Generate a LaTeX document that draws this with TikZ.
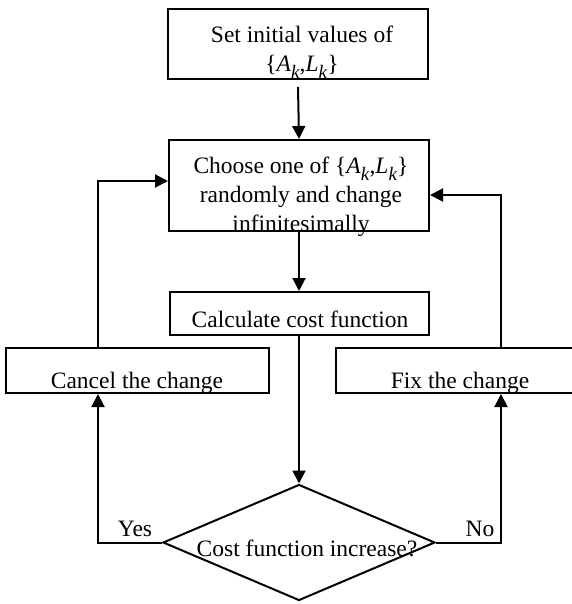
\documentclass[tikz,border=0pt]{standalone}
\usepackage{fontspec}
\setmainfont{Liberation Serif}
\usetikzlibrary{shapes.geometric}
\usetikzlibrary{arrows.meta}
\newcommand\ksub[1]{\raisebox{-7pt}{\fontsize{19}{19}\selectfont\textit{#1}}}
\newcommand\setAL{\{\textit{A}\ksub{k},\textit{L}\ksub{k}\}}
\tikzset{
	box/.style={draw,line width=2pt,inner sep=0pt},
	txt/.style={inner sep=0pt,align=center,anchor=base,font=\fontsize{23.5}{29}\selectfont},
	flow/.style={line width=2pt,-{Triangle[length=13pt,width=13pt]}}
}

\begin{document}
\begin{tikzpicture}[x=1pt,y=-1pt]
	\useasboundingbox (0,0) rectangle (571,604);
	\node[box,minimum width=260,minimum height=70] (init) at (298,44) {};
	\node[box,minimum width=260,minimum height=91] (choose) at (299,185.5) {};
	\node[box,minimum width=259,minimum height=43] (calc) at (299,313.5) {};
	\node[box,minimum width=263,minimum height=45] (cancel) at (137,370.5) {};
	\node[box,minimum width=248,minimum height=45] (fix) at (460,370.5) {};
	\node[box,shape=diamond,minimum width=272,minimum height=116] (test) at (299,542.5) {};
	\node[txt] (inittxt) at (302,72) {Set initial values of\\\setAL};
	\node[txt] (choosetxt) at (301,231) {Choose one of \setAL\\randomly and change\\infinitesimally};
	\node[txt] (calctxt) at (300,327) {Calculate cost function};
	\node[txt] (canceltxt) at (137,388) {Cancel the change};
	\node[txt] (fixtxt) at (460,388) {Fix the change};
	\node[txt] (testtxt) at (307,556) {Cost function increase?};
	\node[txt] (yes) at (135,536) {Yes};
	\node[txt] (no) at (480,536) {No};
	\coordinate (lcol) at (98,0);
	\coordinate (rcol) at (501,0);
	\draw[flow] ([yshift=-7pt]init.south) -- (choose.north);
	\draw[flow] (choose.south) -- (calc.north);
	\draw[flow] (calc.south) -- (test.north);
	\draw[flow] (test.west) -| (lcol |- cancel.south);
	\draw[flow] (test.east) -| (rcol |- fix.south);
	\draw[flow] (lcol |- cancel.north) |- ([yshift=4.5pt]choose.west);
	\draw[flow] (rcol |- fix.north) |- ([yshift=-9.5pt]choose.east);
\end{tikzpicture}
\end{document}
